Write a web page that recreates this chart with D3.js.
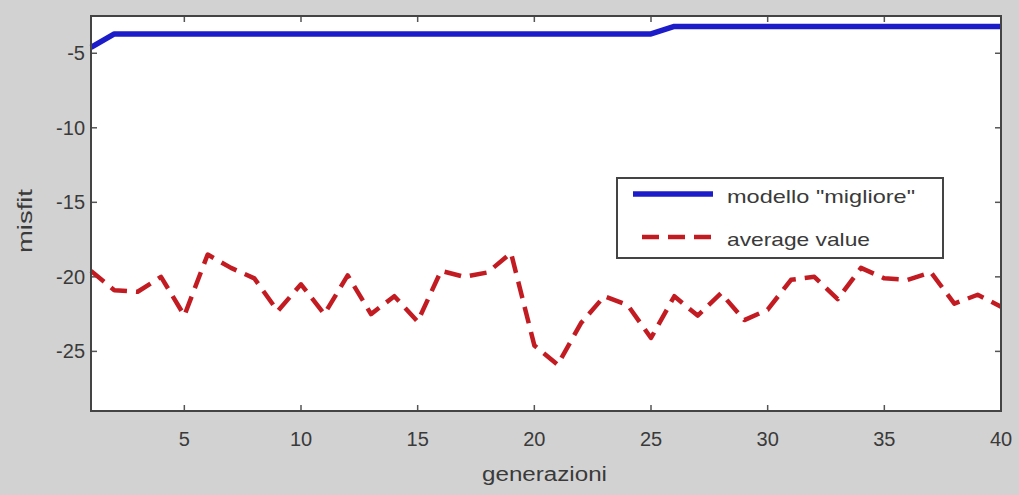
<!DOCTYPE html>
<html>
<head>
<meta charset="utf-8">
<script src="https://cdn.jsdelivr.net/npm/d3@7"></script>
<style>
  html, body { margin: 0; padding: 0; background: #d2d2d2; }
  svg { display: block; }
  text { font-family: "Liberation Sans", Arial, sans-serif; fill: #3a3a3a; }
</style>
</head>
<body>
<svg id="chart" width="1019" height="495"></svg>
<script>
const generations = d3.range(1, 41);
const bestModel = [-4.6, -3.7, -3.7, -3.7, -3.7, -3.7, -3.7, -3.7, -3.7, -3.7,
                   -3.7, -3.7, -3.7, -3.7, -3.7, -3.7, -3.7, -3.7, -3.7, -3.7,
                   -3.7, -3.7, -3.7, -3.7, -3.7, -3.2, -3.2, -3.2, -3.2, -3.2,
                   -3.2, -3.2, -3.2, -3.2, -3.2, -3.2, -3.2, -3.2, -3.2, -3.2];
const averageValue = [-19.6, -20.9, -21.0, -20.0, -22.6, -18.5, -19.4, -20.1, -22.3, -20.5,
                      -22.5, -19.9, -22.5, -21.3, -23.0, -19.6, -20.0, -19.7, -18.4, -24.6,
                      -25.9, -23.1, -21.3, -21.9, -24.1, -21.3, -22.6, -21.1, -22.9, -22.2,
                      -20.2, -20.0, -21.5, -19.4, -20.1, -20.2, -19.7, -21.8, -21.2, -22.0];
const xTicks = [5, 10, 15, 20, 25, 30, 35, 40];
const yTicks = [-5, -10, -15, -20, -25];
const seriesNames = ['modello "migliore"', 'average value'];
const xLabel = "generazioni";
const yLabel = "misfit";

const svg = d3.select("#chart");
const L = 91, R = 1001, T = 16, B = 411;
const x = d3.scaleLinear().domain([1, 40]).range([L, R]);
const y = d3.scaleLinear().domain([-29, -2.5]).range([B, T]);

// plot background
svg.append("rect").attr("x", L).attr("y", T).attr("width", R - L).attr("height", B - T)
  .attr("fill", "#ffffff");

// ticks (inward, all four sides)
const tl = 6;
const tickG = svg.append("g").attr("stroke", "#555").attr("stroke-width", 1.5);
xTicks.forEach(t => {
  tickG.append("line").attr("x1", x(t)).attr("x2", x(t)).attr("y1", B).attr("y2", B - tl);
  tickG.append("line").attr("x1", x(t)).attr("x2", x(t)).attr("y1", T).attr("y2", T + tl);
});
yTicks.forEach(t => {
  tickG.append("line").attr("x1", L).attr("x2", L + tl).attr("y1", y(t)).attr("y2", y(t));
  tickG.append("line").attr("x1", R).attr("x2", R - tl).attr("y1", y(t)).attr("y2", y(t));
});

// tick labels
svg.append("g").selectAll("text").data(xTicks).join("text")
  .attr("x", d => x(d)).attr("y", 446).attr("text-anchor", "middle")
  .attr("font-size", 20).text(d => d);
svg.append("g").selectAll("text").data(yTicks).join("text")
  .attr("x", L - 6).attr("y", d => y(d) + 7).attr("text-anchor", "end")
  .attr("font-size", 20).text(d => d);

// axis labels
svg.append("text").attr("x", 482).attr("y", 481)
  .attr("font-size", 20).attr("textLength", 125).attr("lengthAdjust", "spacingAndGlyphs")
  .text(xLabel);
svg.append("text").attr("transform", "translate(32,253) rotate(-90)")
  .attr("font-size", 20).attr("textLength", 64).attr("lengthAdjust", "spacingAndGlyphs")
  .text(yLabel);

// lines
const line = d3.line().x((d, i) => x(generations[i])).y(d => y(d));
svg.append("path").datum(bestModel).attr("d", line)
  .attr("fill", "none").attr("stroke", "#1c1cc8").attr("stroke-width", 5.5)
  .attr("stroke-linejoin", "round");
svg.append("path").datum(averageValue).attr("d", line)
  .attr("fill", "none").attr("stroke", "#c21c22").attr("stroke-width", 4.5)
  .attr("stroke-dasharray", "17,9").attr("stroke-linejoin", "round");

// frame
svg.append("rect").attr("x", L).attr("y", T).attr("width", R - L).attr("height", B - T)
  .attr("fill", "none").attr("stroke", "#444").attr("stroke-width", 2);

// legend
const lg = svg.append("g");
lg.append("rect").attr("x", 617).attr("y", 178).attr("width", 326).attr("height", 80)
  .attr("fill", "#ffffff").attr("stroke", "#444").attr("stroke-width", 2);
lg.append("line").attr("x1", 633).attr("x2", 713).attr("y1", 194).attr("y2", 194)
  .attr("stroke", "#1c1cc8").attr("stroke-width", 5.5);
lg.append("line").attr("x1", 642).attr("x2", 713).attr("y1", 237).attr("y2", 237)
  .attr("stroke", "#c21c22").attr("stroke-width", 4.5).attr("stroke-dasharray", "17,9");
lg.selectAll("text").data(seriesNames).join("text")
  .attr("x", 727).attr("y", (d, i) => i === 0 ? 203 : 246)
  .attr("font-size", 19)
  .attr("textLength", (d, i) => i === 0 ? 188 : 143).attr("lengthAdjust", "spacingAndGlyphs")
  .text(d => d);
</script>
</body>
</html>
